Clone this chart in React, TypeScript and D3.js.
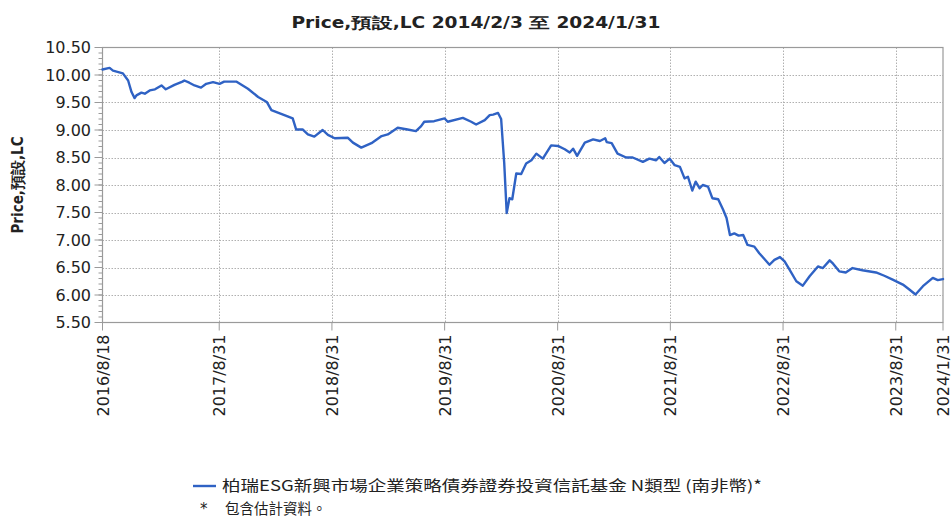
import React from "react";
import * as d3 from "d3";

const dates: string[] = [
  "2016-08-18","2016-09-10","2016-09-21","2016-10-23","2016-11-09","2016-11-20","2016-11-30",
  "2016-12-06","2016-12-22","2017-01-02","2017-01-18","2017-02-04","2017-02-25","2017-03-11",
  "2017-04-08","2017-05-04","2017-05-10","2017-05-26","2017-06-12",
  "2017-07-03","2017-07-20","2017-08-11","2017-09-01","2017-09-16","2017-09-28","2017-10-25","2017-12-02",
  "2018-01-04","2018-02-01","2018-02-16","2018-03-30","2018-04-26","2018-05-07",
  "2018-05-28","2018-06-14","2018-07-05","2018-08-01","2018-08-18","2018-09-09",
  "2018-10-21","2018-11-07","2018-12-04","2019-01-06","2019-02-08","2019-02-28",
  "2019-04-01","2019-05-03","2019-05-30","2019-06-16","2019-06-26","2019-07-28",
  "2019-08-31","2019-09-10","2019-10-29","2019-11-25","2019-12-11","2020-01-08",
  "2020-01-24","2020-02-04","2020-02-20","2020-03-01","2020-03-11","2020-03-19",
  "2020-03-28","2020-04-06","2020-04-19","2020-05-05","2020-05-21","2020-06-07",
  "2020-06-23","2020-07-14","2020-08-10","2020-09-01","2020-09-23","2020-10-09",
  "2020-10-20","2020-11-02","2020-11-27","2020-12-24","2021-01-15","2021-02-01",
  "2021-02-06","2021-02-22","2021-03-13","2021-04-10","2021-05-01","2021-06-03",
  "2021-06-24","2021-07-16","2021-07-26","2021-08-12","2021-08-29","2021-09-14",
  "2021-10-01","2021-10-16","2021-10-27","2021-11-10","2021-11-21","2021-12-04",
  "2021-12-14","2021-12-31","2022-01-14","2022-02-02","2022-02-18","2022-03-01",
  "2022-03-12","2022-03-26","2022-04-09","2022-04-24","2022-05-08","2022-05-30",
  "2022-06-15","2022-07-18","2022-08-03","2022-08-21","2022-09-05","2022-09-21",
  "2022-10-13","2022-11-03","2022-11-25","2022-12-22","2023-01-07","2023-01-29",
  "2023-02-09","2023-03-01","2023-03-22","2023-04-13","2023-05-15","2023-06-28",
  "2023-07-25","2023-08-21","2023-09-23","2023-10-14","2023-11-03","2023-11-27",
  "2023-12-29","2024-01-14","2024-01-31"
];

const prices: number[] = [
  10.10, 10.13, 10.08, 10.03, 9.90, 9.69, 9.58,
  9.63, 9.68, 9.66, 9.72, 9.74, 9.81, 9.74,
  9.82, 9.88, 9.90, 9.86, 9.81,
  9.77, 9.84, 9.87, 9.84, 9.88, 9.88, 9.88, 9.75,
  9.60, 9.51, 9.36, 9.27, 9.21, 9.01,
  9.01, 8.92, 8.88, 9.00, 8.91, 8.85,
  8.86, 8.77, 8.68, 8.76, 8.89, 8.92,
  9.04, 9.01, 8.98, 9.07, 9.15, 9.16,
  9.21, 9.15, 9.22, 9.15, 9.10, 9.18,
  9.27, 9.28, 9.31, 9.20, 8.40, 7.49,
  7.76, 7.74, 8.21, 8.20, 8.39, 8.45,
  8.57, 8.48, 8.72, 8.71, 8.65, 8.59,
  8.66, 8.53, 8.77, 8.83, 8.80, 8.85,
  8.78, 8.76, 8.57, 8.50, 8.50, 8.42,
  8.48, 8.45, 8.51, 8.40, 8.48, 8.36,
  8.33, 8.12, 8.15, 7.90, 8.06, 7.94,
  8.00, 7.97, 7.76, 7.74, 7.55, 7.40,
  7.09, 7.12, 7.08, 7.09, 6.91, 6.88,
  6.76, 6.55, 6.64, 6.69, 6.61, 6.46,
  6.25, 6.17, 6.34, 6.52, 6.49, 6.63,
  6.57, 6.43, 6.41, 6.49, 6.45, 6.41,
  6.35, 6.28, 6.19, 6.10, 6.01, 6.16,
  6.31, 6.27, 6.29
];

const yTickValues: number[] = [5.5, 6.0, 6.5, 7.0, 7.5, 8.0, 8.5, 9.0, 9.5, 10.0, 10.5];
const xTickDates: string[] = [
  "2016-08-18","2017-08-31","2018-08-31","2019-08-31","2020-08-31",
  "2021-08-31","2022-08-31","2023-08-31","2024-01-31"
];
const xTickLabels: string[] = [
  "2016/8/18","2017/8/31","2018/8/31","2019/8/31","2020/8/31",
  "2021/8/31","2022/8/31","2023/8/31","2024/1/31"
];

const titleText = "Price,預設,LC 2014/2/3 至 2024/1/31";
const yTitleText = "Price,預設,LC";
const legendText = "柏瑞ESG新興市場企業策略債券證券投資信託基金 N類型 (南非幣)*";
const noteText = "包含估計資料。";

const W = 951;
const H = 517;
const left = 102.5;
const right = 943;
const top = 47.5;
const bottom = 322.5;
const lineColor = "#2f62c4";
const gridColor = "#b0b0b0";
const frameColor = "#9a9a9a";
const textColor = "#222";
const tickFont = "'DejaVu Sans', Verdana, sans-serif";

export default function App() {
  const parse = d3.timeParse("%Y-%m-%d");
  const data = dates.map((d, i) => ({ date: parse(d) as Date, value: prices[i] }));
  const xDates = xTickDates.map((d) => parse(d) as Date);

  const x = d3.scaleTime().domain([xDates[0], xDates[xDates.length - 1]]).range([left, right]);
  const y = d3.scaleLinear().domain([5.5, 10.5]).range([bottom, top]);

  const line = d3
    .line<{ date: Date; value: number }>()
    .x((d) => x(d.date))
    .y((d) => y(d.value))
    .curve(d3.curveLinear);

  const minorTicks = d3.range(55, 106).map((v) => v / 10);

  return (
    <div style={{ position: "fixed", left: 0, top: 0, width: W, height: H, background: "#fff" }}>
      <svg width={W} height={H} style={{ display: "block" }}>
        <rect x={0} y={0} width={W} height={H} fill="#fff" />
        <text
          x={476}
          y={28}
          textAnchor="middle"
          fontFamily="'DejaVu Sans Condensed', 'Liberation Sans Narrow', sans-serif"
          fontWeight="bold"
          fontSize={15}
          fill={textColor}
          textLength={369}
          lengthAdjust="spacingAndGlyphs"
        >
          {titleText}
        </text>

        {yTickValues.slice(1, -1).map((v) => (
          <line
            key={"hg" + v}
            x1={left}
            x2={right}
            y1={Math.round(y(v)) + 0.5}
            y2={Math.round(y(v)) + 0.5}
            stroke={gridColor}
            strokeWidth={1}
            strokeDasharray="1.5,1.5"
          />
        ))}
        {xDates.slice(1, -1).map((d, i) => (
          <line
            key={"vg" + i}
            x1={Math.round(x(d)) + 0.5}
            x2={Math.round(x(d)) + 0.5}
            y1={top}
            y2={bottom}
            stroke={gridColor}
            strokeWidth={1}
            strokeDasharray="1.5,1.5"
          />
        ))}

        <rect
          x={left}
          y={top}
          width={right - left}
          height={bottom - top}
          fill="none"
          stroke={frameColor}
          strokeWidth={1.2}
        />

        {minorTicks.map((v) => (
          <line
            key={"mt" + v}
            x1={left - 4}
            x2={left}
            y1={y(v)}
            y2={y(v)}
            stroke={frameColor}
            strokeWidth={1}
          />
        ))}
        {yTickValues.map((v) => (
          <g key={"yt" + v}>
            <line x1={left - 8} x2={left} y1={y(v)} y2={y(v)} stroke={frameColor} strokeWidth={1} />
            <text
              x={91}
              y={y(v)}
              dy="0.36em"
              textAnchor="end"
              fontFamily={tickFont}
              fontSize={16}
              fill={textColor}
            >
              {v.toFixed(2)}
            </text>
          </g>
        ))}

        {xDates.map((d, i) => (
          <g key={"xt" + i}>
            <line x1={x(d)} x2={x(d)} y1={bottom} y2={bottom + 8} stroke={frameColor} strokeWidth={1} />
            <text
              transform={`translate(${x(d) + 6},${bottom + 12}) rotate(-90)`}
              textAnchor="end"
              fontFamily={tickFont}
              fontSize={16}
              fill={textColor}
            >
              {xTickLabels[i]}
            </text>
          </g>
        ))}

        <text
          transform={`translate(23,${(top + bottom) / 2}) rotate(-90)`}
          textAnchor="middle"
          fontFamily="'DejaVu Sans Condensed', 'Liberation Sans', sans-serif"
          fontWeight="bold"
          fontSize={15}
          fill={textColor}
        >
          {yTitleText}
        </text>

        <path
          d={line(data) || ""}
          fill="none"
          stroke={lineColor}
          strokeWidth={2.4}
          strokeLinejoin="round"
          strokeLinecap="round"
        />

        <line x1={193} x2={216} y1={486} y2={486} stroke={lineColor} strokeWidth={2.4} />
        <text
          x={222}
          y={486}
          dy="0.36em"
          fontFamily="'Noto Sans CJK TC', 'Noto Sans', sans-serif"
          fontSize={14.5}
          fill={textColor}
          textLength={540}
          lengthAdjust="spacingAndGlyphs"
        >
          {legendText}
        </text>
        <text x={200} y={514} fontFamily={tickFont} fontSize={15} fill={textColor}>
          *
        </text>
        <text
          x={225}
          y={514}
          fontFamily="'Noto Sans CJK TC', sans-serif"
          fontSize={14.5}
          fill={textColor}
        >
          {noteText}
        </text>
      </svg>
    </div>
  );
}
